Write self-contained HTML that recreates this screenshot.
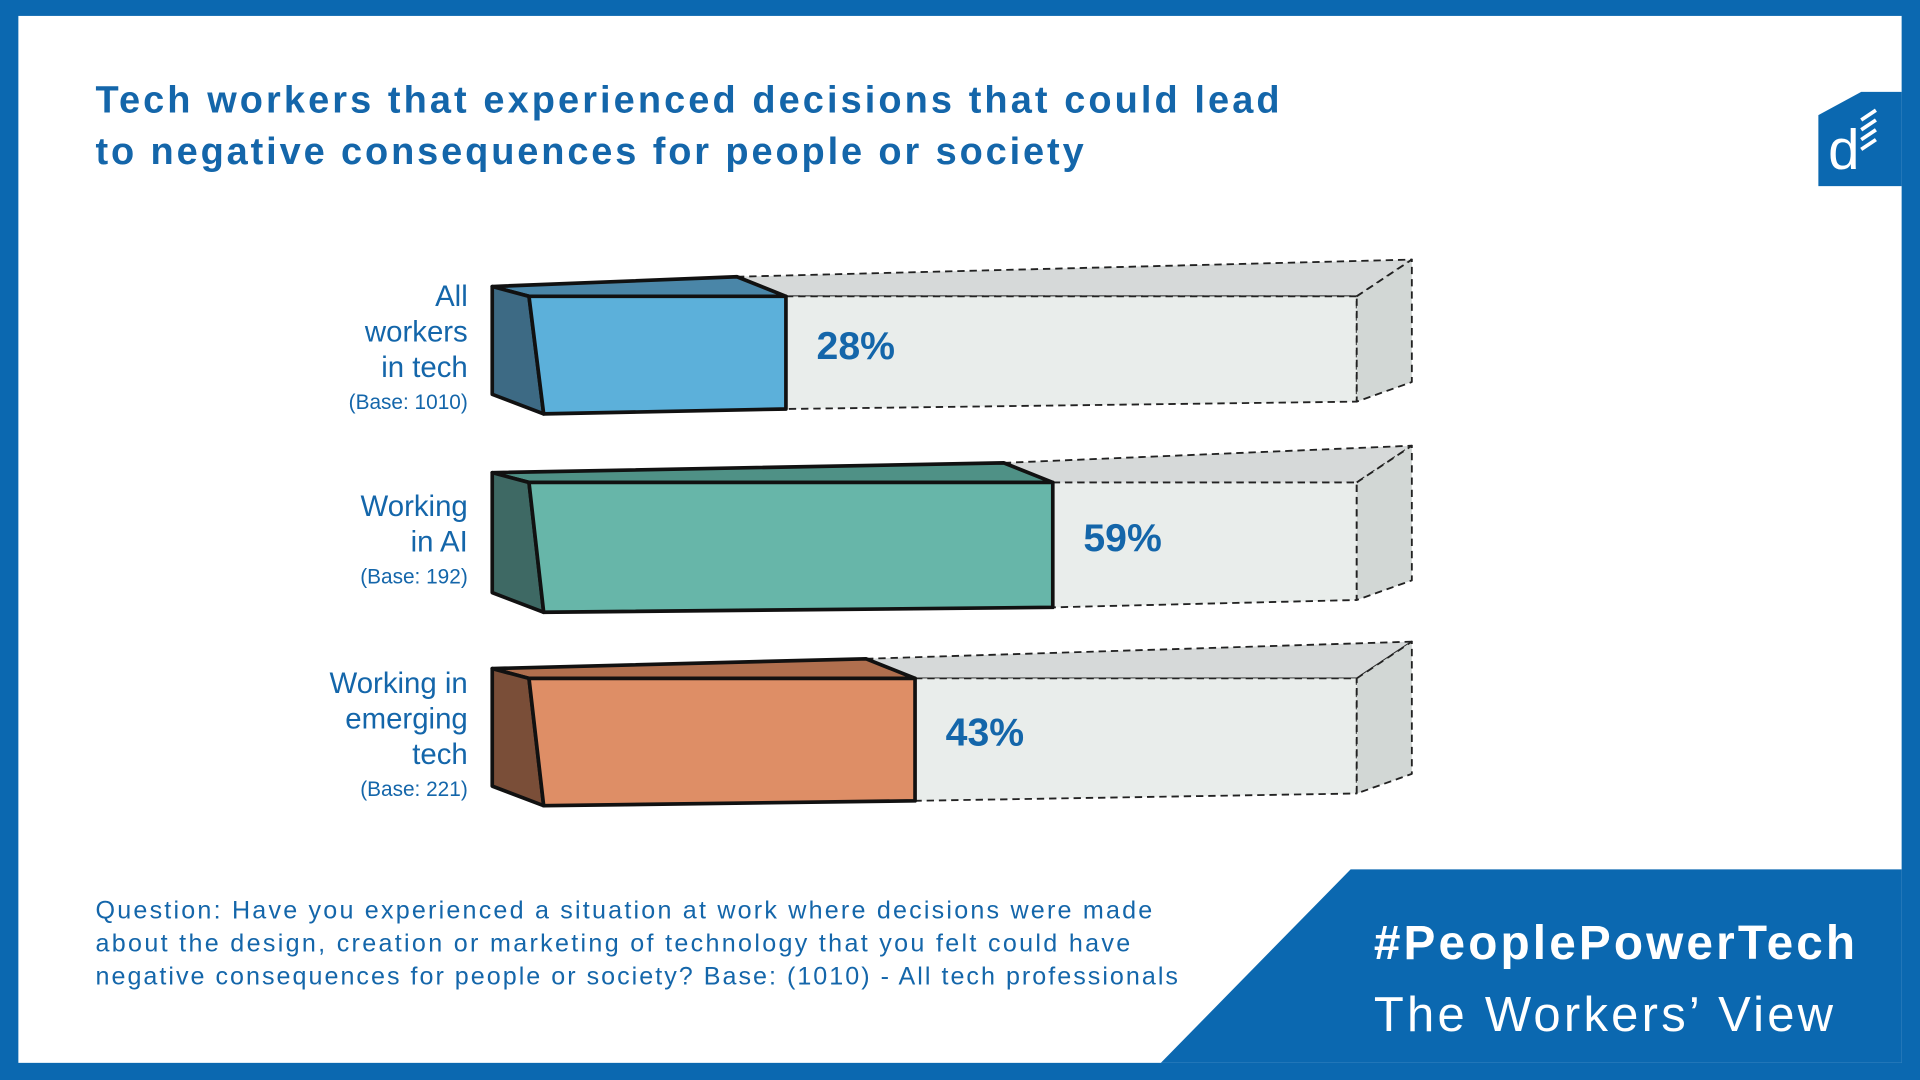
<!DOCTYPE html>
<html><head><meta charset="utf-8"><style>
html,body{margin:0;padding:0;background:#0b68b0;}
svg{display:block}
text{font-family:"Liberation Sans","DejaVu Sans",sans-serif}
</style></head><body>
<svg id="chart" width="1920" height="1080" viewBox="0 0 1568 882" xmlns="http://www.w3.org/2000/svg">
<rect x="0" y="0" width="1568" height="882" fill="#0b68b0"/>
<rect x="15" y="13" width="1538" height="855" fill="#ffffff"/>
<polygon points="948,868 1103,710 1553,710 1553,868" fill="#0b68b0"/>
<text x="78" y="92" font-size="31" font-weight="bold" fill="#1466aa" textLength="967" lengthAdjust="spacing">Tech workers that experienced decisions that could lead</text>
<text x="78" y="134" font-size="31" font-weight="bold" fill="#1466aa" textLength="807" lengthAdjust="spacing">to negative consequences for people or society</text>
<g>
<polygon points="1485,94 1520,75 1553,75 1553,152 1485,152" fill="#0b68b0"/>
<text x="1493" y="138" font-size="46" font-family="Liberation Serif,serif" fill="#fff">d</text>
<path d="M1520,98 l12,-8 M1520,106 l12,-8 M1520,114 l12,-8 M1520,122 l12,-8" stroke="#fff" stroke-width="3"/>
</g>
<g id="bars"></g>
<g font-size="20.5" fill="#1466aa">
<text x="78" y="750" textLength="863" lengthAdjust="spacing">Question: Have you experienced a situation at work where decisions were made</text>
<text x="78" y="777" textLength="845" lengthAdjust="spacing">about the design, creation or marketing of technology that you felt could have</text>
<text x="78" y="804" textLength="884" lengthAdjust="spacing">negative consequences for people or society? Base: (1010) - All tech professionals</text>
</g>
<text x="1122" y="783" font-size="39" font-weight="bold" fill="#fff" textLength="393" lengthAdjust="spacing">#PeoplePowerTech</text>
<text x="1122" y="842" font-size="40" fill="#fff" textLength="375" lengthAdjust="spacing">The Workers’ View</text>
</svg>
<script>
const categories = ["All workers in tech", "Working in AI", "Working in emerging tech"];
const values = [28, 59, 43];
const labelLines = [["All","workers","in tech"],["Working","in AI"],["Working in","emerging","tech"]];
const baseLabels = ["(Base: 1010)","(Base: 192)","(Base: 221)"];
const NS="http://www.w3.org/2000/svg";
const g=document.getElementById('bars');
function xs(v){return 445+v*7.03;}
const rowsTop=[242,394,554], rowsBot=[334,496,654];
const fills=["#5cb0da","#67b6a9","#de8e66"], tops=["#4a86a8","#4f9186","#b06f4e"], sides=["#3d6a84","#3e6964","#7a4e38"];
function poly(pts,fill,stroke,dash,name){
  const p=document.createElementNS(NS,'polygon');
  p.setAttribute('points',pts.map(a=>a.join(',')).join(' '));
  p.setAttribute('fill',fill);
  if(stroke){p.setAttribute('stroke',stroke);p.setAttribute('stroke-width',dash?1.5:3);p.setAttribute('stroke-linejoin','round');}
  if(dash)p.setAttribute('stroke-dasharray','6 4');
  
  
  g.appendChild(p);return p;
}
function txt(x,y,s,size,anchor,weight,name){
  const t=document.createElementNS(NS,'text');
  t.setAttribute('x',x);t.setAttribute('y',y);t.setAttribute('font-size',size);
  t.setAttribute('text-anchor',anchor);t.setAttribute('fill','#1466aa');
  if(weight)t.setAttribute('font-weight',weight);
  t.textContent=s;
  
  
  g.appendChild(t);
}
const FX0=432, TR=1108;
values.forEach((v,i)=>{
  const ft=rowsTop[i], fb=rowsBot[i], xr=xs(v);
  poly([[xr-40,ft-16],[TR+45,ft-30],[TR,ft],[xr,ft]],"#d6d9d9","#222",true,'track-top');
  poly([[xr,ft],[TR,ft],[TR,fb-6],[xr,fb]],"#e9edeb","#222",true,'track-front');
  poly([[TR,ft],[TR+45,ft-30],[TR+45,fb-22],[TR,fb-6]],"#d2d7d5","#222",true,'track-end');
  poly([[FX0-30,ft-8],[xr-40,ft-16],[xr,ft],[FX0,ft]],tops[i],"#111",false,'bar-top');
  poly([[FX0-30,ft-8],[FX0,ft],[FX0+12,fb+4],[FX0-30,fb-12]],sides[i],"#111",false,'bar-side');
  poly([[FX0,ft],[xr,ft],[xr,fb],[FX0+12,fb+4]],fills[i],"#111",false,'bar-'+(i+1));
  txt(xr+25,(ft+fb)/2+5,v+"%",32,'start','bold','value-label');
  const lines=labelLines[i];
  const total=lines.length*29+25;
  let y=(ft+fb)/2-total/2+12;
  lines.forEach(l=>{txt(382,y+6,l,24,'end',null,'category-label');y+=29;});
  txt(382,y+3,baseLabels[i],17,'end',null,'base-label');
});
</script>
</body></html>
